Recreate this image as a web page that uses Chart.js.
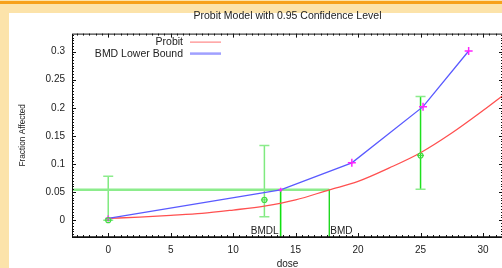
<!DOCTYPE html>
<html>
<head>
<meta charset="utf-8">
<script src="https://cdn.jsdelivr.net/npm/chart.js@4.4.1/dist/chart.umd.min.js"></script>
<style>
  html, body { margin: 0; padding: 0; width: 502px; height: 268px; overflow: hidden; background: #fce3aa; }
  #topbar { position: absolute; left: 0; top: 1px; width: 502px; height: 3px; background: #f7a11a; }
  #panel { position: absolute; left: 9px; top: 13px; right: 0; bottom: 0; background: #fff; }
  #wrap { position: absolute; left: 0; top: 0; width: 520px; height: 272px; }
  #chart { display: block; }
</style>
</head>
<body>
<div id="topbar"></div>
<div id="panel"></div>
<div id="wrap"><canvas id="chart" width="520" height="272"></canvas></div>
<script>
// axis ranges and ticks
const X_MIN = -2.9, X_MAX = 31.6;
const Y_MIN = -0.03, Y_MAX = 0.332;
const xTicks = [0, 5, 10, 15, 20, 25, 30];
const yTicks = [0, 0.05, 0.1, 0.15, 0.2, 0.25, 0.3];
const xMinorStep = 0.5, yMinorStep = 0.005;

// fitted probit curve
const probitDose = [0, 2.5, 5, 7.5, 10, 12.5, 15, 17.7, 20, 22.5, 25, 27.5, 30, 31.6];
const probitFrac = [0.003, 0.0055, 0.0085, 0.012, 0.018, 0.025, 0.036, 0.054, 0.069, 0.093, 0.12, 0.155, 0.195, 0.222];

// BMD lower bound
const lowerDose = [0, 13.8, 19.5, 25.2, 28.85];
const lowerFrac = [0.003, 0.054, 0.102, 0.202, 0.301];

// observed data with confidence limits
const obsDose = [0, 12.5, 25];
const obsFrac = [0, 0.036, 0.115];
const obsLow = [0, 0.006, 0.055];
const obsHigh = [0.078, 0.133, 0.22];

const BMR = 0.054, BMD = 17.7, BMDL = 13.8;

const pts = (xs, ys) => xs.map((x, i) => ({ x: x, y: ys[i] }));
const FONT = "'Liberation Sans', Arial, sans-serif";
Chart.defaults.font.family = FONT;
Chart.defaults.color = "#222";

// error bars for the observed points
const errorBars = {
  id: "errorBars",
  beforeDatasetsDraw(chart) {
    const { ctx, scales: { x, y } } = chart;
    const colors = ["#7fea7f", "#7fea7f", "#1ee01e"];
    ctx.save();
    obsDose.forEach((d, i) => {
      const px = x.getPixelForValue(d);
      const y1 = y.getPixelForValue(obsLow[i]);
      const y2 = y.getPixelForValue(obsHigh[i]);
      ctx.strokeStyle = colors[i];
      ctx.lineWidth = 1.5;
      ctx.beginPath();
      ctx.moveTo(px, y1); ctx.lineTo(px, y2);
      ctx.stroke();
      ctx.strokeStyle = "#8cec8c";
      ctx.lineWidth = 1.5;
      ctx.beginPath();
      ctx.moveTo(px - 5, y1); ctx.lineTo(px + 5, y1);
      ctx.moveTo(px - 5, y2); ctx.lineTo(px + 5, y2);
      ctx.stroke();
    });
    ctx.restore();
  }
};

// frame with inward ticks, legend and BMD labels
const frame = {
  id: "frame",
  afterDraw(chart) {
    const { ctx, chartArea: a, scales: { x, y } } = chart;
    ctx.save();
    ctx.strokeStyle = "#111";
    ctx.lineWidth = 1;
    ctx.strokeRect(a.left + 0.5, a.top + 0.5, a.right - a.left, a.bottom - a.top);
    ctx.beginPath();
    ctx.moveTo(a.left, a.bottom); ctx.lineTo(a.right, a.bottom);
    ctx.lineWidth = 1.5;
    ctx.stroke();

    ctx.lineWidth = 1;
    ctx.beginPath();
    for (let v = Math.ceil(X_MIN / xMinorStep) * xMinorStep; v <= X_MAX; v += xMinorStep) {
      const px = Math.round(x.getPixelForValue(v)) + 0.5;
      const major = Math.abs(v / 5 - Math.round(v / 5)) < 1e-6;
      const len = major ? 4 : 2;
      ctx.moveTo(px, a.bottom); ctx.lineTo(px, a.bottom - len);
      ctx.moveTo(px, a.top); ctx.lineTo(px, a.top + len);
    }
    for (let v = Math.ceil(Y_MIN / yMinorStep) * yMinorStep; v <= Y_MAX; v += yMinorStep) {
      const py = Math.round(y.getPixelForValue(v)) + 0.5;
      const major = Math.abs(v / 0.05 - Math.round(v / 0.05)) < 1e-6;
      const len = major ? 4 : 2;
      ctx.moveTo(a.left, py); ctx.lineTo(a.left + len, py);
      ctx.moveTo(a.right, py); ctx.lineTo(a.right - len, py);
    }
    ctx.stroke();

    // legend
    ctx.font = "10.5px " + FONT;
    ctx.fillStyle = "#222";
    ctx.textAlign = "right";
    ctx.textBaseline = "middle";
    ctx.fillText("Probit", a.left + 111, a.top + 8.5);
    ctx.fillText("BMD Lower Bound", a.left + 111, a.top + 20.5);
    ctx.strokeStyle = "#ff7070";
    ctx.lineWidth = 1;
    ctx.beginPath();
    ctx.moveTo(a.left + 118, a.top + 8.5); ctx.lineTo(a.left + 149, a.top + 8.5);
    ctx.stroke();
    ctx.strokeStyle = "#a0a0ff";
    ctx.lineWidth = 2.5;
    ctx.beginPath();
    ctx.moveTo(a.left + 118, a.top + 20); ctx.lineTo(a.left + 149, a.top + 20);
    ctx.stroke();

    // BMD / BMDL labels
    ctx.font = "10px " + FONT;
    ctx.textAlign = "right";
    ctx.fillText("BMDL", x.getPixelForValue(BMDL) - 2, a.bottom - 6);
    ctx.textAlign = "left";
    ctx.fillText("BMD", x.getPixelForValue(BMD) + 1, a.bottom - 6);
    ctx.restore();
  }
};

new Chart(document.getElementById("chart"), {
  type: "scatter",
  data: {
    datasets: [
      {
        label: "BMD level",
        data: pts([X_MIN, BMD], [BMR, BMR]),
        showLine: true, borderColor: "#8cec8c", borderWidth: 2.5, pointRadius: 0, order: 9
      },
      {
        label: "BMDL line",
        data: pts([BMDL, BMDL], [BMR, Y_MIN]),
        showLine: true, borderColor: "#10e010", borderWidth: 1.6, pointRadius: 0, order: 8
      },
      {
        label: "BMD line",
        data: pts([BMD, BMD], [BMR, Y_MIN]),
        showLine: true, borderColor: "#20d820", borderWidth: 1, pointRadius: 0, order: 8
      },
      {
        label: "Probit",
        data: pts(probitDose, probitFrac),
        showLine: true, borderColor: "#ff5050", borderWidth: 1.3,
        cubicInterpolationMode: "monotone", pointRadius: 0, order: 3
      },
      {
        label: "BMD Lower Bound",
        data: pts(lowerDose, lowerFrac),
        showLine: true, borderColor: "#5a5aff", borderWidth: 1.3,
        pointStyle: "cross", pointRadius: [3, 2, 4, 4, 4], pointBorderColor: "#ff22ff",
        pointBorderWidth: 1.5, order: 2
      },
      {
        label: "Observed",
        data: pts(obsDose, obsFrac),
        showLine: false, pointStyle: "circle", pointRadius: 2.5,
        pointBorderColor: "#44dd44", pointBackgroundColor: "rgba(0,0,0,0)",
        pointBorderWidth: 1.2, order: 1
      },
      {
        label: "Observed bar",
        data: pts(obsDose, obsFrac),
        showLine: false, pointStyle: "line", pointRadius: 3.5,
        pointBorderColor: "#44dd44", pointBorderWidth: 1, order: 1
      }
    ]
  },
  options: {
    responsive: false,
    animation: false,
    devicePixelRatio: 1,
    layout: { padding: { left: 0, right: 17, top: 0, bottom: 0 } },
    plugins: {
      legend: { display: false },
      tooltip: { enabled: false },
      title: {
        display: true, fullSize: false,
        text: "Probit Model with 0.95 Confidence Level",
        font: { size: 10.5, weight: "normal" }, color: "#222",
        padding: { top: 10, bottom: 11 }
      }
    },
    scales: {
      x: {
        type: "linear", min: X_MIN, max: X_MAX,
        afterBuildTicks: s => { s.ticks = xTicks.map(v => ({ value: v })); },
        afterFit: s => { s.height = 35; },
        grid: { display: false, drawTicks: false },
        border: { display: false },
        ticks: { padding: 7, font: { size: 10 }, maxRotation: 0, autoSkip: false, callback: v => String(v) },
        title: { display: true, text: "dose", font: { size: 10 }, padding: { top: 0, bottom: 1.5 } }
      },
      y: {
        type: "linear", min: Y_MIN, max: Y_MAX,
        afterBuildTicks: s => { s.ticks = yTicks.map(v => ({ value: v })); },
        afterFit: s => { s.width = 72; },
        grid: { display: false, drawTicks: false },
        border: { display: false },
        ticks: { padding: 7, font: { size: 10 }, autoSkip: false, callback: v => String(v) },
        title: { display: true, text: "Fraction Affected", font: { size: 8.3 }, padding: { top: 18, bottom: 0 } }
      }
    }
  },
  plugins: [errorBars, frame]
});
</script>
</body>
</html>
